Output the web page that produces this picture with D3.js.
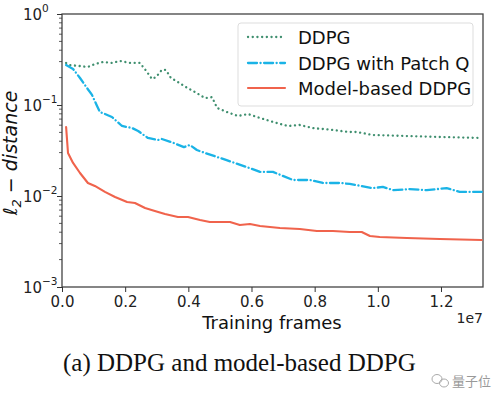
<!DOCTYPE html>
<html>
<head>
<meta charset="utf-8">
<script src="https://cdn.jsdelivr.net/npm/d3@7"></script>
<style>
  body { margin: 0; background: #fff; }
  svg { display: block; font-family: "DejaVu Sans", sans-serif; }
</style>
</head>
<body>
<div id="chart"></div>
<script>
// training frames in units of 1e7
let ddpgX = [0.013, 0.025, 0.057, 0.082, 0.104, 0.130, 0.158, 0.184, 0.215, 0.247, 0.269, 0.285, 0.298, 0.316, 0.329, 0.345, 0.367, 0.392, 0.421, 0.453, 0.475, 0.491, 0.522, 0.557, 0.589, 0.627, 0.680, 0.715, 0.753, 0.794, 0.858, 0.911, 0.934, 0.984, 1.092, 1.196, 1.329];
let ddpgY = [0.29, 0.275, 0.268, 0.262, 0.282, 0.297, 0.29, 0.305, 0.29, 0.29, 0.231, 0.193, 0.203, 0.243, 0.243, 0.198, 0.179, 0.158, 0.139, 0.119, 0.122, 0.0927, 0.0838, 0.0757, 0.0796, 0.072, 0.0634, 0.0588, 0.0603, 0.0559, 0.0531, 0.0505, 0.0505, 0.0468, 0.0456, 0.0445, 0.0434];

let patchX = [0.013, 0.035, 0.057, 0.079, 0.095, 0.111, 0.120, 0.136, 0.158, 0.190, 0.222, 0.241, 0.272, 0.304, 0.316, 0.354, 0.386, 0.405, 0.427, 0.453, 0.519, 0.585, 0.627, 0.668, 0.731, 0.785, 0.826, 0.880, 0.911, 0.984, 1.016, 1.048, 1.101, 1.155, 1.218, 1.259, 1.329];
let patchY = [0.275, 0.249, 0.198, 0.154, 0.129, 0.0975, 0.0838, 0.0796, 0.0738, 0.0588, 0.0559, 0.0518, 0.0434, 0.0412, 0.0423, 0.0382, 0.0345, 0.0363, 0.032, 0.0297, 0.0249, 0.0208, 0.0184, 0.0184, 0.015, 0.015, 0.0139, 0.0139, 0.0136, 0.0122, 0.0126, 0.0116, 0.0119, 0.0116, 0.0122, 0.0111, 0.0111];

let modelX = [0.013, 0.019, 0.035, 0.057, 0.082, 0.104, 0.136, 0.168, 0.206, 0.231, 0.263, 0.294, 0.326, 0.367, 0.399, 0.437, 0.468, 0.532, 0.563, 0.595, 0.627, 0.690, 0.753, 0.807, 0.858, 0.911, 0.949, 0.975, 1.006, 1.092, 1.196, 1.329];
let modelY = [0.0573, 0.0297, 0.0231, 0.0179, 0.0139, 0.0129, 0.0111, 0.00975, 0.0086, 0.00838, 0.00738, 0.00684, 0.00634, 0.00588, 0.00588, 0.00545, 0.00518, 0.00518, 0.0048, 0.00492, 0.00468, 0.00445, 0.00434, 0.00412, 0.00412, 0.00402, 0.00402, 0.00363, 0.00354, 0.00345, 0.00337, 0.00328];

let seriesNames = ["DDPG", "DDPG with Patch Q", "Model-based DDPG"];
let xTicks = [0.0, 0.2, 0.4, 0.6, 0.8, 1.0, 1.2];
let yTicks = [1e-3, 1e-2, 1e-1, 1];
let yExp = ["\u22123", "\u22122", "\u22121", "0"];

let w = 500, h = 399;
let padL = 62, padR = 483, padT = 14, padB = 287;

let svg = d3.select("#chart").append("svg")
  .attr("width", w)
  .attr("height", h);

let xScale = d3.scaleLinear().domain([0, 1.333]).range([padL, padR]);
let yScale = d3.scaleLog().domain([1e-3, 1]).range([padB, padT]);

// frame
svg.append("rect")
  .attr("x", padL).attr("y", padT)
  .attr("width", padR - padL).attr("height", padB - padT)
  .attr("fill", "none")
  .attr("stroke", "#444")
  .attr("stroke-width", 1.3);

// x axis
let xAxis = d3.axisBottom(xScale)
  .tickValues(xTicks)
  .tickFormat(d3.format(".1f"))
  .tickSize(5)
  .tickPadding(4);
let xg = svg.append("g")
  .attr("transform", "translate(0," + padB + ")")
  .call(xAxis);
xg.select(".domain").remove();
xg.selectAll("line").attr("stroke", "#333").attr("stroke-width", 1);
xg.selectAll("text").attr("font-size", 15).attr("fill", "#222")
  .attr("font-family", "DejaVu Sans");

// y axis, major ticks
let yAxis = d3.axisLeft(yScale)
  .tickValues(yTicks)
  .tickFormat("")
  .tickSize(5);
let yg = svg.append("g")
  .attr("transform", "translate(" + padL + ",0)")
  .call(yAxis);
yg.select(".domain").remove();
yg.selectAll("line").attr("stroke", "#333").attr("stroke-width", 1);

// minor ticks
let minor = [];
[1e-3, 1e-2, 1e-1].forEach(function(base){
  for (let k = 2; k <= 9; k++) minor.push(base * k);
});
svg.append("g").selectAll("line").data(minor).enter()
  .append("line")
  .attr("x1", padL - 3).attr("x2", padL)
  .attr("y1", function(d){ return yScale(d); })
  .attr("y2", function(d){ return yScale(d); })
  .attr("stroke", "#333")
  .attr("stroke-width", 0.8);

// y tick labels 10^n
svg.append("g").selectAll("text").data(yTicks).enter()
  .append("text")
  .attr("x", padL - 20)
  .attr("y", function(d){ return yScale(d) + 6; })
  .attr("text-anchor", "end")
  .attr("font-size", 15)
  .attr("fill", "#222")
  .text("10");
svg.append("g").selectAll("text").data(yTicks).enter()
  .append("text")
  .attr("x", padL - 20)
  .attr("y", function(d){ return yScale(d) - 2; })
  .attr("font-size", 10.5)
  .attr("fill", "#222")
  .text(function(d, i){ return yExp[i]; });

// axis titles
svg.append("text")
  .attr("x", 272)
  .attr("y", 329)
  .attr("text-anchor", "middle")
  .attr("font-size", 18)
  .attr("fill", "#111")
  .text("Training frames");

svg.append("text")
  .attr("x", 483)
  .attr("y", 323)
  .attr("text-anchor", "end")
  .attr("font-size", 14)
  .attr("fill", "#222")
  .text("1e7");

let yt = svg.append("text")
  .attr("transform", "translate(17,153) rotate(-90)")
  .attr("text-anchor", "middle")
  .attr("font-size", 19)
  .attr("fill", "#111")
  .attr("font-style", "italic");
yt.append("tspan").text("\u2113");
yt.append("tspan").attr("font-size", 13).attr("dy", 4).text("2");
yt.append("tspan").attr("dy", -4).text(" \u2212 distance");

// lines
let colors = ["#3f8f6f", "#1ab3e6", "#f0634c"];
let dashes = ["0.1,4.6", "9,3.5,0.1,3.5", null];
let widths = [2.3, 2.3, 2.1];
let seriesData = [
  d3.zip(ddpgX, ddpgY),
  d3.zip(patchX, patchY),
  d3.zip(modelX, modelY)
];

let line = d3.line()
  .x(function(d){ return xScale(d[0]); })
  .y(function(d){ return yScale(d[1]); })
  .curve(d3.curveLinear);

svg.append("g").selectAll("path").data(seriesData).enter()
  .append("path")
  .attr("d", line)
  .attr("fill", "none")
  .attr("stroke", function(d, i){ return colors[i]; })
  .attr("stroke-width", function(d, i){ return widths[i]; })
  .attr("stroke-dasharray", function(d, i){ return dashes[i]; })
  .attr("stroke-linecap", "round")
  .attr("stroke-linejoin", "round");

// legend
let legend = svg.append("g");
legend.append("rect")
  .attr("x", 238).attr("y", 23)
  .attr("width", 235).attr("height", 83)
  .attr("rx", 3)
  .attr("fill", "#fff")
  .attr("fill-opacity", 0.85)
  .attr("stroke", "#ddd");

let rowY = [37, 63, 88];
seriesNames.forEach(function(name, i){
  legend.append("line")
    .attr("x1", 248).attr("x2", 285)
    .attr("y1", rowY[i]).attr("y2", rowY[i])
    .attr("stroke", colors[i])
    .attr("stroke-width", widths[i])
    .attr("stroke-dasharray", dashes[i])
    .attr("stroke-linecap", "round");
  legend.append("text")
    .attr("x", 298)
    .attr("y", rowY[i] + 6.5)
    .attr("font-size", 18)
    .attr("fill", "#111")
    .text(name);
});

// caption
svg.append("text")
  .attr("x", 63)
  .attr("y", 371)
  .attr("font-family", "Liberation Serif, serif")
  .attr("font-size", 25)
  .attr("fill", "#111")
  .text("(a)  DDPG and model-based DDPG");

// watermark
let wm = svg.append("g").attr("fill", "none").attr("stroke", "#aaa").attr("stroke-width", 1);
wm.append("ellipse").attr("cx", 437).attr("cy", 379).attr("rx", 5).attr("ry", 4.5);
wm.append("ellipse").attr("cx", 444).attr("cy", 383).attr("rx", 4.5).attr("ry", 4);
svg.append("text")
  .attr("x", 452)
  .attr("y", 386)
  .attr("font-family", "Noto Sans CJK SC")
  .attr("font-size", 13)
  .attr("fill", "#999")
  .text("量子位");
</script>
</body>
</html>
